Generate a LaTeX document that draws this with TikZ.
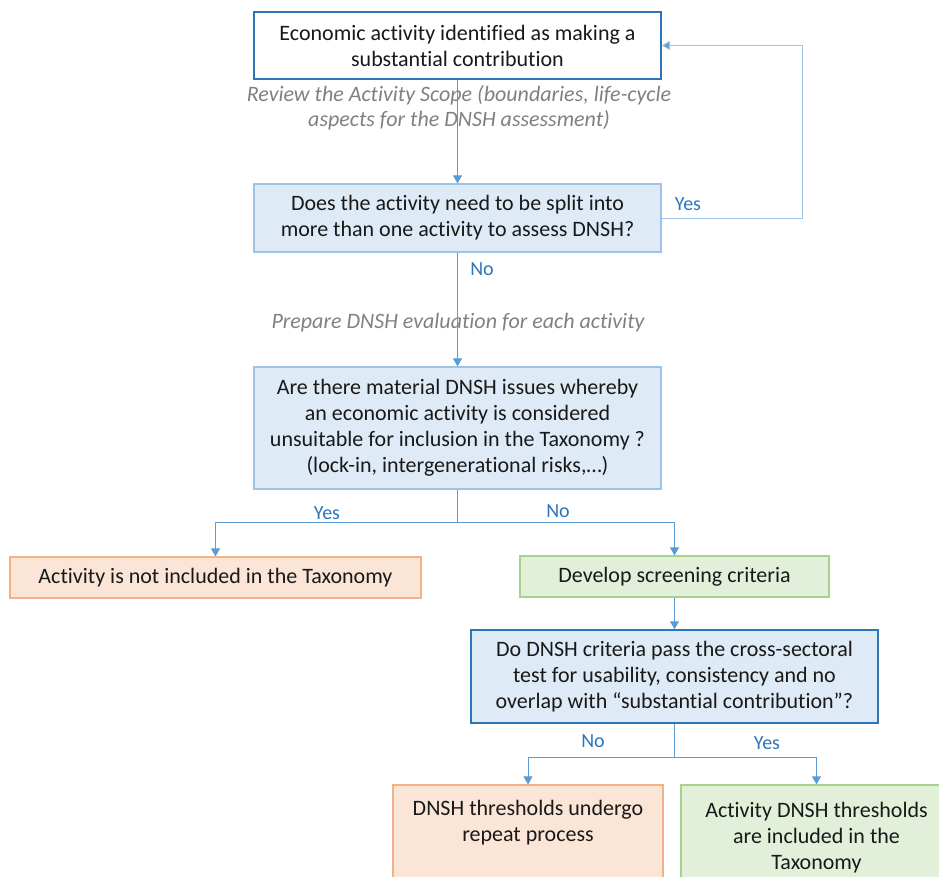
\documentclass[tikz,border=0pt]{standalone}
\usepackage{fontspec}
\setmainfont[Ligatures=CommonOff]{Carlito}
\usetikzlibrary{arrows.meta}
\definecolor{boxblue}{HTML}{2E75B6}
\definecolor{lightedge}{HTML}{9DC3E6}
\definecolor{bluefill}{HTML}{DEEBF7}
\definecolor{redfill}{HTML}{FBE5D6}
\definecolor{rededge}{HTML}{F4B183}
\definecolor{greenfill}{HTML}{E2F0D9}
\definecolor{greenedge}{HTML}{A9D18E}
\definecolor{wire}{HTML}{5B9BD5}
\definecolor{notegrey}{HTML}{808080}
\tikzset{
  box/.style={draw, rectangle, inner sep=0pt, align=center,
    font=\fontsize{22}{26}\selectfont, text=black!90},
  startbox/.style={box, draw=boxblue, line width=1.5pt, fill=white},
  qbox/.style={box, draw=lightedge, line width=1.2pt, fill=bluefill},
  keybox/.style={box, draw=boxblue, line width=1.5pt, fill=bluefill},
  redbox/.style={box, draw=rededge, line width=1.2pt, fill=redfill},
  greenbox/.style={box, draw=greenedge, line width=1.2pt, fill=greenfill},
  note/.style={font=\fontsize{22}{25}\selectfont\itshape, text=notegrey, align=center},
  answer/.style={font=\fontsize{20}{24}\selectfont, text=boxblue},
  flow/.style={draw=wire, line width=1pt, -{Triangle[width=9pt,length=8pt]}},
  link/.style={draw=wire, line width=1pt},
}
\begin{document}
\begin{tikzpicture}[x=1pt,y=-1pt]
\useasboundingbox (0,0) rectangle (939,876);
\begin{scope}
\clip (0,0) rectangle (939,876);

% boxes
\node[startbox, minimum width=407pt, minimum height=67pt] (b1) at (457.5,45.5)
  {Economic activity identified as making a\\substantial contribution};
\node[qbox, minimum width=407pt, minimum height=68pt] (b2) at (457.5,218)
  {Does the activity need to be split into\\more than one activity to assess DNSH?};
\node[qbox, minimum width=407pt, minimum height=122pt] (b3) at (457.5,428)
  {Are there material DNSH issues whereby\\an economic activity is considered\\unsuitable for inclusion in the Taxonomy ?\\(lock-in, intergenerational risks,\dots)};
\node[redbox, minimum width=411pt, minimum height=41pt] (b4) at (215.5,577.5)
  {Activity is not included in the Taxonomy};
\node[greenbox, minimum width=309pt, minimum height=41pt] (b5) at (674.5,576.5)
  {Develop screening criteria};
\node[keybox, minimum width=407pt, minimum height=93pt] (b6) at (674.5,676.5)
  {Do DNSH criteria pass the cross-sectoral\\test for usability, consistency and no\\overlap with “substantial contribution”?};
\node[redbox, minimum width=270pt, minimum height=106pt] (b7) at (528,838)
  {DNSH thresholds undergo\\repeat process\\\strut};
\node[greenbox, minimum width=271pt, minimum height=106pt] (b8) at (816.5,838)
  {Activity DNSH thresholds\\are included in the\\Taxonomy};

% notes
\node[note] (n1) at (459,107.5)
  {Review the Activity Scope (boundaries, life-cycle\\aspects for the DNSH assessment)};
\node[note] (n2) at (458,323) {Prepare DNSH evaluation for each activity};

% connectors
\draw[flow] (b1.south) -- (b2.north);
\draw[draw=lightedge, line width=1pt, -{Triangle[width=9pt,length=8pt,fill=wire]}]
  (b2.east) -- (802,218) |- (b1.east);
\draw[flow] (b2.south) -- (b3.north);

\coordinate (s1) at (457.5,522);
\draw[link] (b3.south) -- (s1);
\draw[flow] (s1) -| (b4.north);
\draw[flow] (s1) -| (b5.north);
\draw[flow] (b5.south) -- (b6.north);

\coordinate (s2) at (674.5,757);
\draw[link] (b6.south) -- (s2);
\draw[flow] (s2) -| (b7.north);
\draw[flow] (s2) -| (b8.north);

% answers
\node[answer] (a1) at (688,204) {Yes};
\node[answer] (a2) at (482,269) {No};
\node[answer] (a3) at (327,513) {Yes};
\node[answer] (a4) at (558,511) {No};
\node[answer] (a5) at (593,741) {No};
\node[answer] (a6) at (767,743) {Yes};
\end{scope}
\end{tikzpicture}
\end{document}
